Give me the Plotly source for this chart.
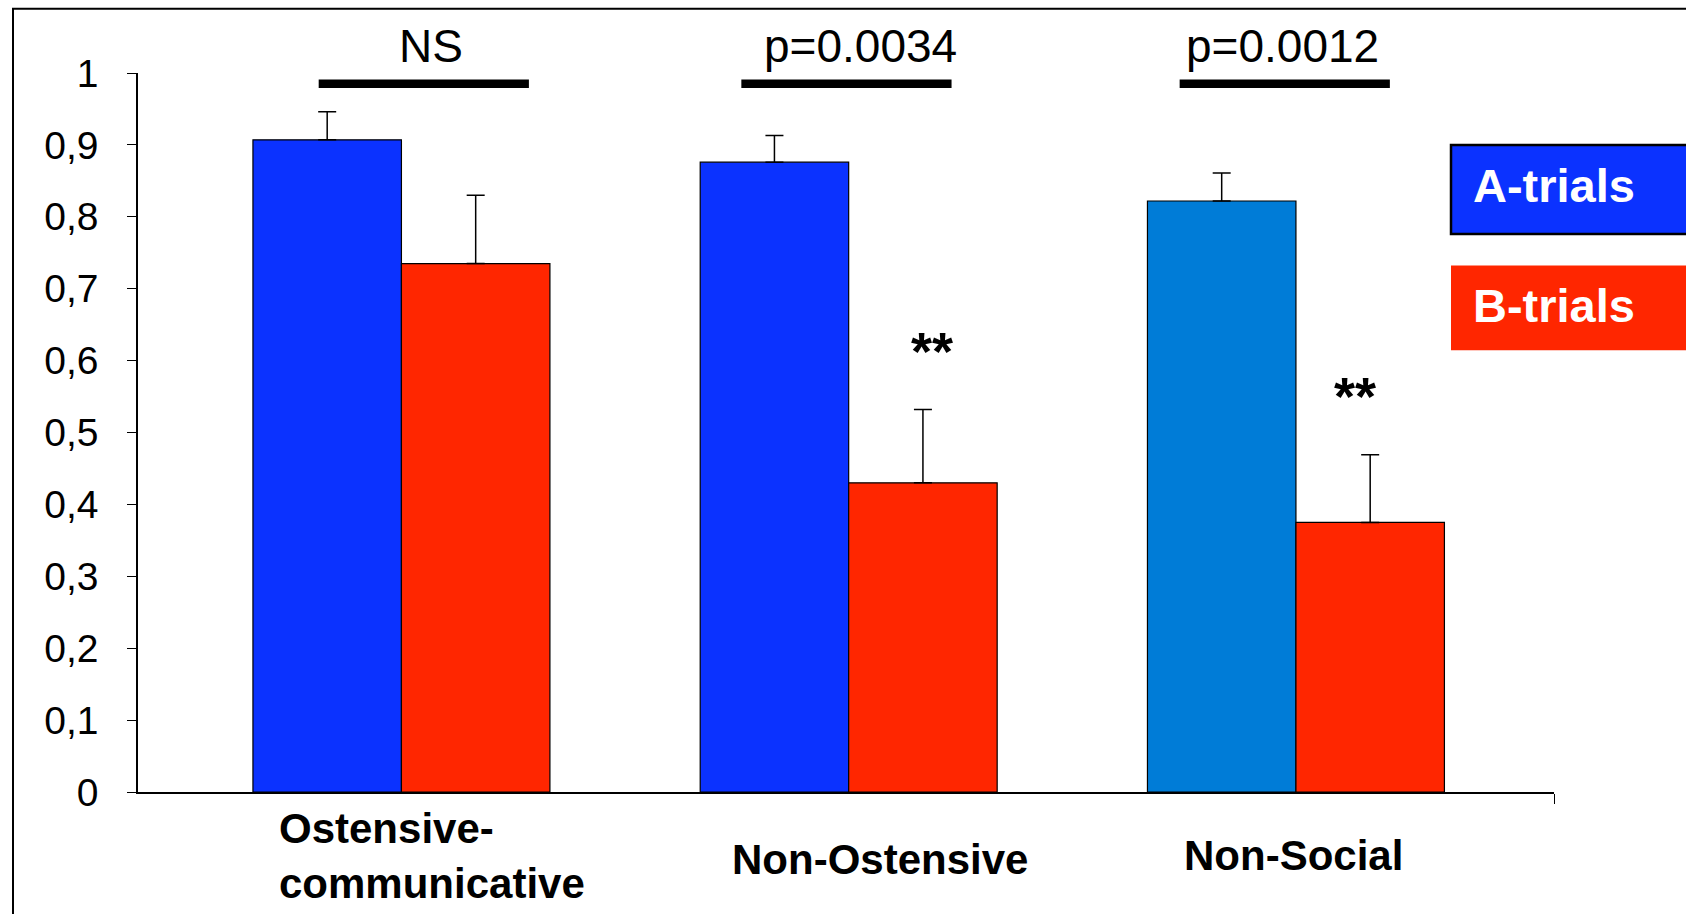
import plotly.graph_objects as go

# ---- data ----
categories = ["Ostensive-<br>communicative", "Non-Ostensive", "Non-Social"]
a_trials = [0.907, 0.876, 0.822]
a_err = [0.039, 0.037, 0.039]
b_trials = [0.735, 0.430, 0.375]
b_err = [0.095, 0.102, 0.094]
sig_labels = ["NS", "p=0.0034", "p=0.0012"]
star_labels = ["", "**", "**"]
y_ticks = [0, 0.1, 0.2, 0.3, 0.4, 0.5, 0.6, 0.7, 0.8, 0.9, 1]
y_tick_text = ["0", "0,1", "0,2", "0,3", "0,4", "0,5", "0,6", "0,7", "0,8", "0,9", "1"]

BLUE = "#0B32FF"
LIGHT_BLUE = "#007CD7"
RED = "#FF2600"
a_colors = [BLUE, BLUE, LIGHT_BLUE]
FONT = "Liberation Sans, Arial, sans-serif"

W, H = 1686, 914
L, R_END, TOP, BOT = 138, 1554, 73, 792.5
X_RANGE = [-0.589, 2.577]

xs = list(range(len(categories)))
bar_w = 0.332

fig = go.Figure()
fig.add_trace(go.Bar(
    x=[i - bar_w / 2 for i in xs], y=a_trials, width=bar_w, name="A-trials",
    marker=dict(color=a_colors, line=dict(color="black", width=1.2)),
    error_y=dict(type="data", array=a_err, arrayminus=[0] * 3, symmetric=False,
                 color="black", thickness=1.5, width=9),
))
fig.add_trace(go.Bar(
    x=[i + bar_w / 2 for i in xs], y=b_trials, width=bar_w, name="B-trials",
    marker=dict(color=RED, line=dict(color="black", width=1.2)),
    error_y=dict(type="data", array=b_err, arrayminus=[0] * 3, symmetric=False,
                 color="black", thickness=1.5, width=9),
))

shapes = []
annotations = []

# significance lines and labels
sig_centers = [0.05, 0.995, 1.975]
sig_text_x = [0.065, 1.026, 1.971]
for i, lab in enumerate(sig_labels):
    c = sig_centers[i]
    shapes.append(dict(type="line", xref="x", yref="y", x0=c - 0.235, x1=c + 0.235,
                       y0=0.985, y1=0.985, line=dict(color="black", width=8.6)))
    annotations.append(dict(x=sig_text_x[i], y=1.037, xref="x", yref="paper",
                            xanchor="center", yanchor="middle",
                            text=lab, showarrow=False,
                            font=dict(family=FONT, size=46, color="black")))

# stars above B bars
star_dx = [0.0, 0.02, -0.033]
for i, s in enumerate(star_labels):
    if s:
        annotations.append(dict(x=i + bar_w / 2 + star_dx[i], y=b_trials[i] + b_err[i] + 0.082,
                                xref="x", yref="y", xanchor="center", yanchor="middle",
                                text="<b>" + s + "</b>", showarrow=False,
                                font=dict(family=FONT, size=54, color="black")))

# category labels
cat_x = [0.069, 1.071, 1.994]
cat_y = [-0.089, -0.094, -0.088]
for i, c in enumerate(categories):
    annotations.append(dict(x=cat_x[i], y=cat_y[i], xref="x", yref="paper", text="<b>" + c + "</b>",
                            xanchor="center", yanchor="middle",
                            showarrow=False, align="left",
                            font=dict(family=FONT, size=42, color="black")))

# legend boxes (paper coords from pixel positions)
pw = R_END - L
ph = BOT - TOP
def px_x(p):
    return (p - L) / pw
def px_y(p):
    return (BOT - p) / ph

shapes.append(dict(type="rect", xref="paper", yref="paper", x0=px_x(1451), x1=px_x(1720),
                   y0=px_y(234), y1=px_y(145), fillcolor=BLUE, line=dict(color="black", width=2.5)))
shapes.append(dict(type="rect", xref="paper", yref="paper", x0=px_x(1451), x1=px_x(1720),
                   y0=px_y(350.5), y1=px_y(265.6), fillcolor=RED, line=dict(color=RED, width=0)))
annotations.append(dict(x=px_x(1471), y=px_y(186), xref="paper", yref="paper",
                        xanchor="left", yanchor="middle",
                        text="<b>A-trials</b>", showarrow=False,
                        font=dict(family=FONT, size=47, color="white")))
annotations.append(dict(x=px_x(1471), y=px_y(306), xref="paper", yref="paper",
                        xanchor="left", yanchor="middle",
                        text="<b>B-trials</b>", showarrow=False,
                        font=dict(family=FONT, size=47, color="white")))

# outer frame
shapes.append(dict(type="rect", xref="paper", yref="paper", x0=px_x(13), x1=px_x(1720),
                   y0=px_y(960), y1=px_y(8.6), line=dict(color="black", width=2)))

fig.update_layout(
    width=W, height=H,
    margin=dict(l=L, r=W - R_END, t=TOP, b=H - BOT, pad=0),
    paper_bgcolor="white", plot_bgcolor="white",
    showlegend=False,
    barmode="overlay",
    shapes=shapes, annotations=annotations,
    xaxis=dict(range=X_RANGE, showgrid=False, zeroline=False, showline=True,
               linecolor="black", linewidth=1.5, showticklabels=False,
               tickvals=[X_RANGE[1]], ticks="outside", ticklen=10, tickcolor="black"),
    yaxis=dict(range=[0, 1], showgrid=False, zeroline=False, showline=True,
               linecolor="black", linewidth=1.5, tickvals=y_ticks, ticktext=y_tick_text,
               ticks="outside", ticklen=9, tickcolor="black", ticklabelstandoff=21,
               tickfont=dict(family=FONT, size=39, color="black")),
)

fig.write_html("out.html", config={"displayModeBar": False},
               post_script="document.body.style.margin='0';document.body.style.overflow='hidden';")
